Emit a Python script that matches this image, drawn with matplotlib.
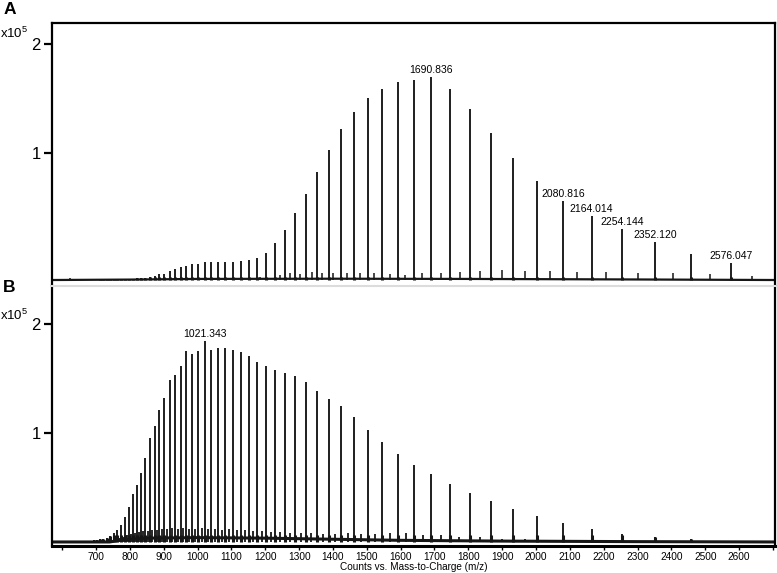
import numpy as np
import matplotlib
matplotlib.use('Agg')
import matplotlib.pyplot as plt

plt.rcParams['font.family'] = 'Liberation Sans'
plt.rcParams['mathtext.fontset'] = 'custom'
plt.rcParams['mathtext.rm'] = 'Liberation Sans'

# m/z of the charge-state peaks, z = 80 ... 21
mz = [676.9, 685.5, 694.3, 703.3, 712.5, 722.0, 731.7, 741.8, 752.0, 762.6,
      773.5, 784.7, 796.2, 808.1, 820.3, 832.9, 845.9, 859.3, 873.2, 887.5,
      902.3, 917.5, 933.3, 949.7, 966.6, 984.2, 1002.4, 1021.3, 1040.9, 1061.3,
      1082.5, 1104.6, 1127.6, 1151.5, 1176.5, 1202.7, 1230.0, 1258.6, 1288.5, 1319.9,
      1352.9, 1387.5, 1424.0, 1462.5, 1503.1, 1546.0, 1591.4, 1639.6, 1690.8, 1745.4,
      1803.5, 1865.7, 1932.3, 2003.8, 2080.8, 2164.0, 2254.1, 2352.1, 2459.0, 2576.0]

# panel A: intensity above the baseline (x10^5 counts)
int_a = [0.004, 0.004, 0.004, 0.004, 0.005, 0.005, 0.006, 0.007, 0.008, 0.008,
         0.008, 0.008, 0.010, 0.012, 0.015, 0.018, 0.020, 0.025, 0.040, 0.053,
         0.055, 0.083, 0.101, 0.117, 0.129, 0.145, 0.145, 0.166, 0.166, 0.166,
         0.163, 0.166, 0.175, 0.182, 0.200, 0.252, 0.344, 0.461, 0.615, 0.793,
         0.999, 1.199, 1.390, 1.553, 1.676, 1.759, 1.829, 1.845, 1.870, 1.759,
         1.575, 1.359, 1.123, 0.913, 0.729, 0.593, 0.470, 0.353, 0.240, 0.154]
floor_a = -0.175   # baseline of trace A as read on its axis

# panel B
int_b = [0.010, 0.012, 0.015, 0.020, 0.025, 0.030, 0.040, 0.055, 0.080, 0.110,
         0.156, 0.232, 0.324, 0.440, 0.523, 0.633, 0.771, 0.950, 1.064, 1.211,
         1.318, 1.486, 1.532, 1.617, 1.755, 1.722, 1.755, 1.844, 1.761, 1.777,
         1.783, 1.761, 1.746, 1.706, 1.649, 1.615, 1.578, 1.553, 1.526, 1.465,
         1.385, 1.309, 1.250, 1.150, 1.028, 0.920, 0.810, 0.706, 0.624, 0.529,
         0.450, 0.376, 0.303, 0.239, 0.172, 0.119, 0.073, 0.049, 0.025, 0.010]

# small peaks between the main ones
sat_a_mz = [623.0, 1184.6, 1243.7, 1273.3, 1302.8, 1337.4, 1367.0, 1401.2, 1440.8,
            1480.1, 1521.5, 1568.8, 1613.1, 1662.5, 1718.6, 1775.9, 1835.0, 1899.1,
            1967.9, 2041.6, 2121.4, 2207.1, 2301.7, 2404.2, 2513.5, 2637.7]
sat_a_int = [0.015, 0.030, 0.046, 0.062, 0.055, 0.077, 0.067, 0.062, 0.062,
             0.067, 0.062, 0.055, 0.046, 0.062, 0.067, 0.077, 0.086, 0.092,
             0.086, 0.086, 0.077, 0.077, 0.067, 0.062, 0.055, 0.037]

sat_b_mz = [757.3, 768.0, 779.1, 790.4, 802.1, 814.2, 826.6, 839.4, 852.6, 866.2,
            880.3, 894.9, 909.9, 925.4, 941.5, 958.1, 975.4, 993.3, 1011.8, 1031.1,
            1051.1, 1071.9, 1093.5, 1116.1, 1139.5, 1164.0, 1189.6, 1216.3, 1244.3, 1273.5,
            1304.2, 1336.4, 1370.2, 1405.7, 1443.2, 1482.8, 1524.5, 1568.7, 1616.0, 1665.4,
            1718.6, 1773.6, 1834.8, 1898.9, 1967.7, 2041.6, 2120.5, 2209.0, 2303.0]
sat_b_int = [0.03, 0.04, 0.05, 0.06, 0.07, 0.08, 0.09, 0.10, 0.10, 0.11,
             0.11, 0.12, 0.12, 0.13, 0.12, 0.13, 0.12, 0.12, 0.13, 0.12,
             0.12, 0.11, 0.12, 0.11, 0.11, 0.10, 0.10, 0.09, 0.09, 0.08,
             0.08, 0.08, 0.07, 0.07, 0.08, 0.07, 0.07, 0.08, 0.085, 0.064,
             0.064, 0.049, 0.049, 0.025, 0.025, 0.012, 0.006, 0.005, 0.004]

# baseline traces
base_a_mz = [570, 800, 1000, 1400, 1800, 2300, 2706]
base_a = [0.0, 0.004, 0.010, 0.012, 0.010, 0.005, 0.0]
base_b_mz = [570, 740, 780, 850, 1000, 1200, 1400, 1600, 1900, 2300, 2706]
base_b = [0.0, 0.0, 0.02, 0.035, 0.04, 0.035, 0.025, 0.015, 0.008, 0.003, 0.0]

labels_a = ['1690.836', '2080.816', '2164.014', '2254.144', '2352.120', '2576.047']
labels_b = ['1021.343']

xticks = np.arange(600, 2800, 100)
xticklabels = ['' if t in (600, 2700) else str(t) for t in xticks]

W, H = 777, 573
fig = plt.figure(figsize=(W / 100, H / 100), dpi=100)
ax1 = fig.add_axes([52 / W, 1 - 285 / H, 723 / W, 262 / H])
ax2 = fig.add_axes([52 / W, 1 - 546 / H, 723 / W, 260 / H])

line_c = '#161616'
foot = 0.025   # height of the slightly broader foot under each main peak

# trace A
top_a = floor_a + np.array(int_a)
ax1.vlines(mz, floor_a, top_a, color=line_c, lw=1.35)
ax1.vlines(mz, floor_a, np.minimum(top_a, floor_a + foot), color=line_c, lw=2.2)
ax1.vlines(sat_a_mz, floor_a, floor_a + np.array(sat_a_int), color=line_c, lw=1.1)
ax1.plot(base_a_mz, floor_a + np.array(base_a), color=line_c, lw=1.6)

# trace B
ax2.vlines(mz, 0, int_b, color=line_c, lw=1.35)
ax2.vlines(mz, 0, np.minimum(int_b, foot + 0.035), color=line_c, lw=2.2)
ax2.vlines(sat_b_mz, 0, sat_b_int, color=line_c, lw=1.3)
ax2.plot(base_b_mz, base_b, color=line_c, lw=2.2)

mz_arr = np.array(mz)
for lab in labels_a:
    v = float(lab)
    i = np.argmin(np.abs(mz_arr - v))
    ax1.annotate(lab, (v, floor_a + int_a[i]), xytext=(0, 1.5),
                 textcoords='offset points', ha='center', va='bottom', fontsize=7.5)
for lab in labels_b:
    v = float(lab)
    i = np.argmin(np.abs(mz_arr - v))
    ax2.annotate(lab, (v, int_b[i]), xytext=(0, 1.5),
                 textcoords='offset points', ha='center', va='bottom', fontsize=7.5)

ax1.set_xlim(570, 2706)
ax2.set_xlim(570, 2706)
ax1.set_ylim(-0.221, 2.196)
ax2.set_ylim(-0.037, 2.349)

for ax in (ax1, ax2):
    ax.set_yticks([1, 2])
    ax.set_yticklabels(['1', '2'])
    ax.tick_params(axis='y', direction='out', length=6, width=1.6,
                   labelsize=12, pad=2)
    for s in ('left', 'right', 'top', 'bottom'):
        ax.spines[s].set_linewidth(1.6)
        ax.spines[s].set_color('black')

ax1.spines['bottom'].set_visible(False)
ax1.set_xticks([])
ax2.spines['top'].set_color('#dcdcdc')
ax2.spines['top'].set_linewidth(1.5)
ax2.spines['bottom'].set_linewidth(2.2)

ax2.set_xticks(xticks)
ax2.set_xticklabels(xticklabels)
ax2.tick_params(axis='x', direction='out', length=3, width=1.0,
                labelsize=7.3, pad=1)
ax2.set_xlabel('Counts vs. Mass-to-Charge (m/z)', fontsize=7.2, labelpad=0)

fig.text(4 / W, 1 - 2 / H, 'A', fontsize=12.5, fontweight='bold', va='top')
fig.text(3 / W, 1 - 280 / H, 'B', fontsize=12.5, fontweight='bold', va='top')
fig.text(0.5 / W, 1 - 38.5 / H, r'x10$^{5}$', fontsize=9.5, va='baseline')
fig.text(0.5 / W, 1 - 320.5 / H, r'x10$^{5}$', fontsize=9.5, va='baseline')

plt.savefig('out.png', dpi=100)
